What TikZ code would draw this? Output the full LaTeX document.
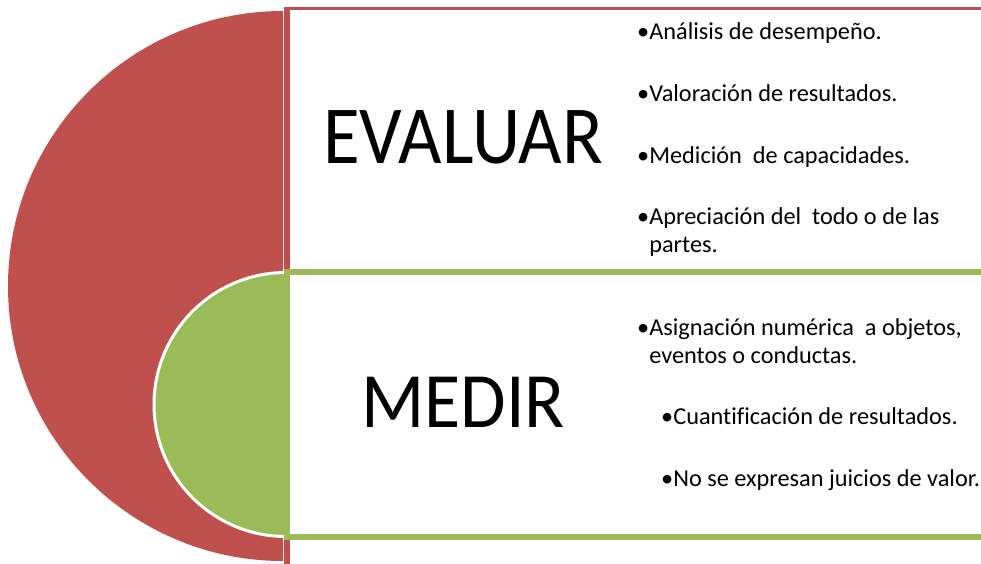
\documentclass[tikz,border=0pt]{standalone}
\usepackage{fontspec}
\setmainfont[Ligatures=NoCommon]{Carlito}
\definecolor{ored}{HTML}{C0504D}
\definecolor{ogreen}{HTML}{9BBB59}
\tikzset{
  bullettext/.style={anchor=base west, inner sep=0pt, font=\fontsize{24.3}{29}\selectfont},
  bigword/.style={anchor=base, inner sep=0pt}
}
\begin{document}
\begin{tikzpicture}[x=1pt,y=-1pt]
\useasboundingbox (0,0) rectangle (981,563);
\clip (0,0) rectangle (981,563);
% red half disc
\fill[ored] (283,11) arc[start angle=270,end angle=90,radius=275] -- cycle;
% red frame
\draw[ored, line width=3.4] (286,8.5) -- (1000,8.5);
\fill[ored] (284,6.8) rectangle (289.5,570);
% green half disc
\fill[ogreen] (286,272.5) arc[start angle=270,end angle=90,radius=132] -- cycle;
\draw[white, line width=3] (286,272.5) arc[start angle=270,end angle=90,radius=132];
% green frame
\draw[ogreen, line width=5.7] (286.7,272.2) rectangle (1000,537.2);
% big words
\node[bigword] (evaluar) at (463,163) {\scalebox{1}[1.1]{\fontsize{75}{75}\selectfont EVALUAR}};
\node[bigword] (medir) at (463,427) {\scalebox{1}[1.06]{\fontsize{74}{74}\selectfont MEDIR}};
% top bullets
\node[bullettext] (e1) at (637,39) {•Análisis de desempeño.};
\node[bullettext] (e2) at (637,101) {•Valoración de resultados.};
\node[bullettext] (e3) at (637,163) {•Medición\ \ de capacidades.};
\node[bullettext] (e4) at (637,224) {•Apreciación del\ \ todo o de las};
\node[bullettext] (e4b) at (637,252) {\phantom{•}partes.};
% bottom bullets
\node[bullettext] (m1) at (637,335) {•Asignación numérica\ \ a objetos,};
\node[bullettext] (m1b) at (637,363) {\phantom{•}eventos o conductas.};
\node[bullettext] (m2) at (661,424) {•Cuantificación de resultados.};
\node[bullettext] (m3) at (661,486) {•No se expresan juicios de valor.};
\end{tikzpicture}
\end{document}
